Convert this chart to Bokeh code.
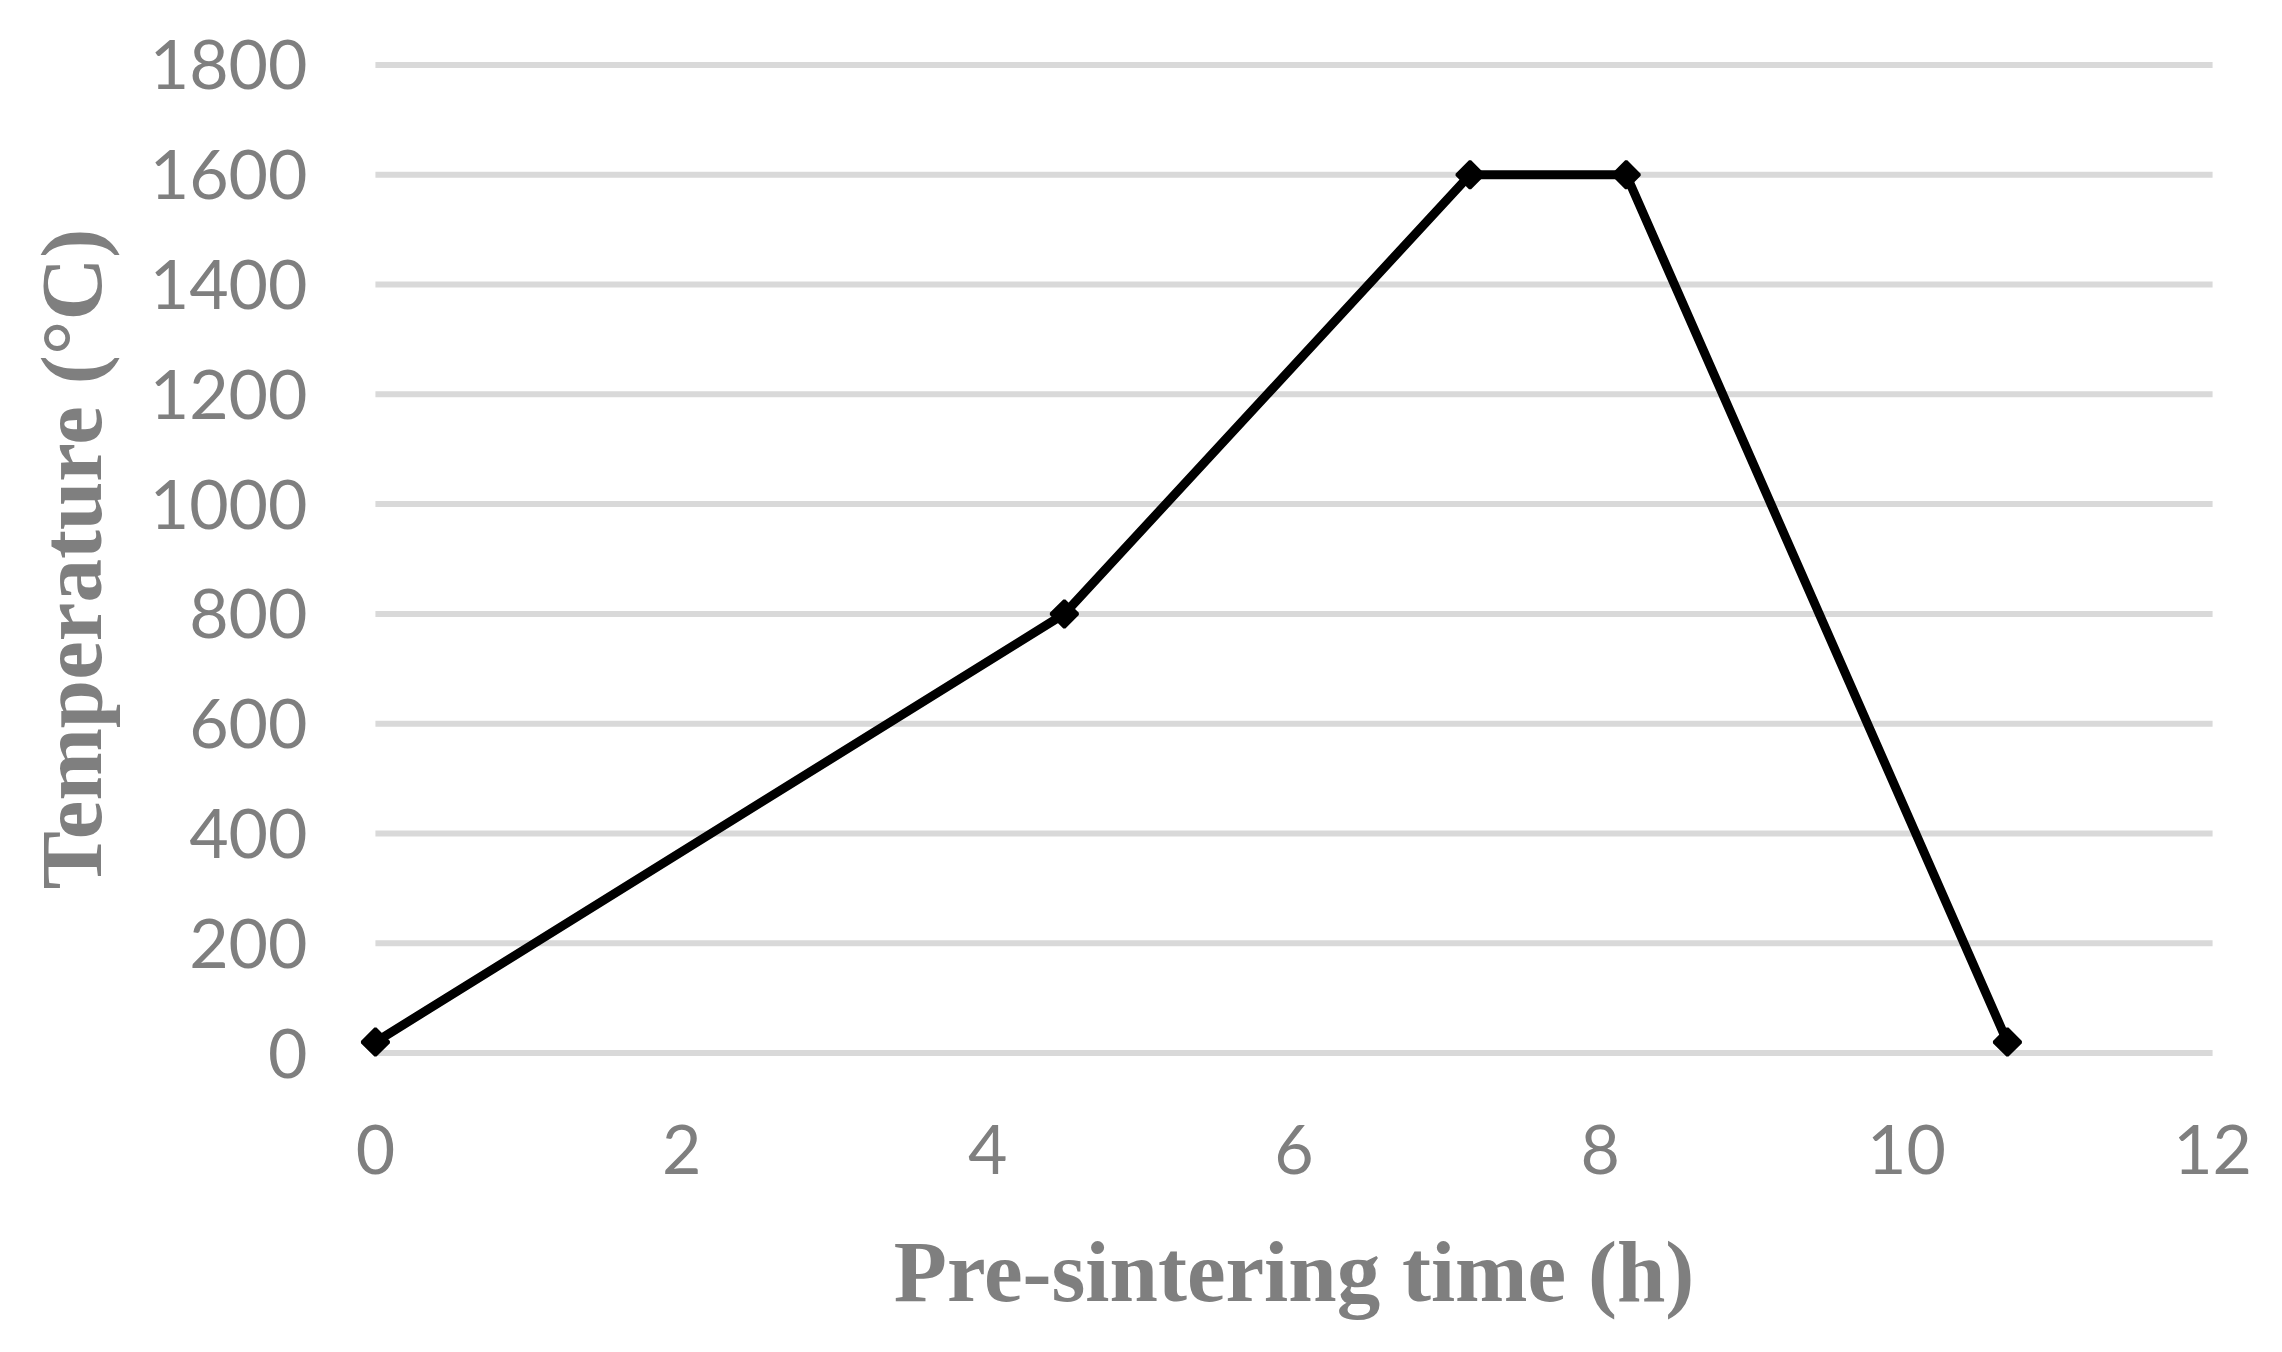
from bokeh.plotting import figure
from bokeh.models import Range1d, FixedTicker
from bokeh.embed import file_html
from bokeh.resources import INLINE
import numpy as np

# Data
time_h = [0, 4.5, 7.15, 8.17, 10.66]
temperature_c = [20, 800, 1600, 1600, 20]

x_ticks = [0, 2, 4, 6, 8, 10, 12]
y_ticks = [0, 200, 400, 600, 800, 1000, 1200, 1400, 1600, 1800]

x_title = "Pre-sintering time (h)"
y_title = "Temperature (°C)"

p = figure(width=2266, height=1336, output_backend="svg", toolbar_location=None,
           x_range=Range1d(-0.3, 12.3), y_range=Range1d(-50, 1850),
           min_border_left=329, min_border_right=8,
           min_border_top=37, min_border_bottom=256)
p.frame_width = 1929
p.frame_height = 1043
p.outline_line_color = None
p.xgrid.visible = False
p.ygrid.visible = False

# horizontal gridlines from 0 to 12
p.segment(x0=[x_ticks[0]] * len(y_ticks), x1=[x_ticks[-1]] * len(y_ticks),
          y0=y_ticks, y1=y_ticks, line_color="#d9d9d9", line_width=6, level="underlay")

p.line(time_h, temperature_c, line_color="black", line_width=9)
p.scatter(time_h, temperature_c, marker="square", angle=np.pi / 4, size=19,
          fill_color="black", line_color="black", line_width=3)

for ax in (p.xaxis[0], p.yaxis[0]):
    ax.axis_line_color = None
    ax.major_tick_line_color = None
    ax.minor_tick_line_color = None
    ax.major_tick_out = 0
    ax.major_tick_in = 0
    ax.major_label_text_font = "Lato"
    ax.major_label_text_font_size = "68px"
    ax.major_label_text_color = "#7f7f7f"
    ax.axis_label_text_font = "Liberation Serif"
    ax.axis_label_text_font_style = "bold"
    ax.axis_label_text_font_size = "87px"
    ax.axis_label_text_color = "#7f7f7f"

p.xaxis[0].ticker = FixedTicker(ticks=x_ticks)
p.yaxis[0].ticker = FixedTicker(ticks=y_ticks)
p.xaxis[0].axis_label = x_title
p.yaxis[0].axis_label = y_title
p.xaxis[0].major_label_standoff = 44
p.yaxis[0].major_label_standoff = 22
p.xaxis[0].axis_label_standoff = 46
p.yaxis[0].axis_label_standoff = 27

open("out.html", "w").write(file_html(p, INLINE))
